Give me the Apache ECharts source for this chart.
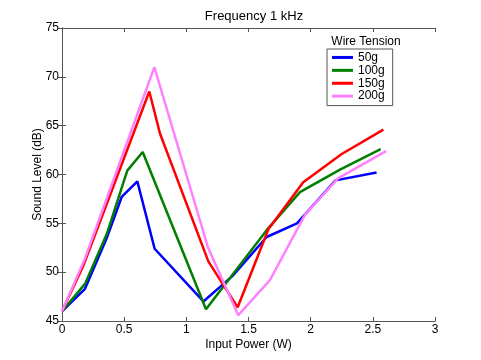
<!DOCTYPE html>
<html>
<head>
<meta charset="utf-8">
<script src="https://cdn.jsdelivr.net/npm/echarts@6/dist/echarts.min.js"></script>
<style>html,body{margin:0;padding:0;background:#fff;}#c{width:481px;height:360px;}</style>
</head>
<body>
<div id="c"></div>
<script>
var seriesNames = ['50g', '100g', '150g', '200g'];
var xTicks = [0, 0.5, 1, 1.5, 2, 2.5, 3];
var yTicks = [45, 50, 55, 60, 65, 70, 75];

var x50 = [0, 0.185, 0.36, 0.48, 0.606, 0.745, 1.137, 1.37, 1.646, 1.89, 2.2, 2.53];
var y50 = [46, 48.3, 53.5, 57.7, 59.3, 52.4, 47.0, 49.6, 53.6, 55.0, 59.4, 60.2];

var x100 = [0, 0.185, 0.36, 0.525, 0.649, 1.158, 1.646, 1.914, 2.236, 2.563];
var y100 = [46, 48.8, 53.9, 60.4, 62.3, 46.2, 54.3, 58.2, 60.5, 62.6];

var x150 = [0, 0.17, 0.702, 0.788, 1.177, 1.413, 1.66, 1.94, 2.25, 2.585];
var y150 = [46, 50.6, 68.5, 64.2, 51.1, 46.4, 54.4, 59.2, 62.1, 64.6];

var x200 = [0, 0.185, 0.743, 1.175, 1.418, 1.673, 1.955, 2.22, 2.606];
var y200 = [46, 51.4, 71.0, 52.5, 45.6, 49.2, 55.9, 59.6, 62.4];

var colors = ['#0000ff', '#007f00', '#ff0000', '#ff80ff'];

function pairs(xs, ys) { return xs.map(function (x, i) { return [x, ys[i]]; }); }
var allX = [x50, x100, x150, x200];
var allY = [y50, y100, y150, y200];

var FONT = "'Liberation Sans', Arial, sans-serif";
var axisCol = '#555';

var chart = echarts.init(document.getElementById('c'), null, { renderer: 'canvas' });
var baseX = {
  type: 'value', min: xTicks[0], max: xTicks[xTicks.length - 1], interval: 0.5,
  axisLine: { show: true, lineStyle: { color: axisCol, width: 1 } },
  axisTick: { show: true, inside: true, length: 4, lineStyle: { color: axisCol } },
  splitLine: { show: false }
};
var baseY = {
  type: 'value', min: yTicks[0], max: yTicks[yTicks.length - 1], interval: 5,
  axisLine: { show: true, lineStyle: { color: axisCol, width: 1 } },
  axisTick: { show: true, inside: true, length: 4, lineStyle: { color: axisCol } },
  splitLine: { show: false }
};

chart.setOption({
  animation: false,
  backgroundColor: '#fff',
  title: [{
    text: 'Frequency 1 kHz', left: 249, top: 5, textAlign: 'center',
    textStyle: { fontFamily: FONT, fontSize: 13, fontWeight: 'normal', color: '#000' }
  }, {
    text: 'Wire Tension', left: 361, top: 31, textAlign: 'center',
    textStyle: { fontFamily: FONT, fontSize: 12, fontWeight: 'normal', color: '#000' }
  }],
  grid: { left: 62, right: 46, top: 28, bottom: 39, containLabel: false },
  legend: {
    data: seriesNames,
    orient: 'vertical', left: 327, top: 49,
    icon: 'rect', itemWidth: 21, itemHeight: 3, itemGap: 0,
    padding: [2, 8, 3, 5],
    borderColor: axisCol, borderWidth: 1, backgroundColor: '#fff',
    textStyle: { fontFamily: FONT, fontSize: 12, color: '#000', lineHeight: 12.9 }
  },
  xAxis: [
    Object.assign({}, baseX, {
      position: 'bottom', name: 'Input Power (W)', nameLocation: 'middle', nameGap: 18,
      nameMoveOverlap: false,
      nameTextStyle: { fontFamily: FONT, fontSize: 12, color: '#000' },
      axisLabel: { show: true, margin: 3, fontFamily: FONT, fontSize: 12, color: '#000' }
    }),
    Object.assign({}, baseX, { position: 'top', axisLabel: { show: false } })
  ],
  yAxis: [
    Object.assign({}, baseY, {
      position: 'left', name: 'Sound Level (dB)', nameLocation: 'middle', nameGap: 18,
      nameMoveOverlap: false,
      nameTextStyle: { fontFamily: FONT, fontSize: 12, color: '#000' },
      axisLabel: { show: true, margin: 3, fontFamily: FONT, fontSize: 12, color: '#000' }
    }),
    Object.assign({}, baseY, { position: 'right', axisLabel: { show: false } })
  ],
  series: seriesNames.map(function (n, i) {
    return {
      name: n, type: 'line', xAxisIndex: 0, yAxisIndex: 0,
      data: pairs(allX[i], allY[i]),
      showSymbol: false, symbol: 'none',
      itemStyle: { color: colors[i] },
      lineStyle: { color: colors[i], width: 2.5 },
      emphasis: { disabled: true }
    };
  })
});
</script>
</body>
</html>
